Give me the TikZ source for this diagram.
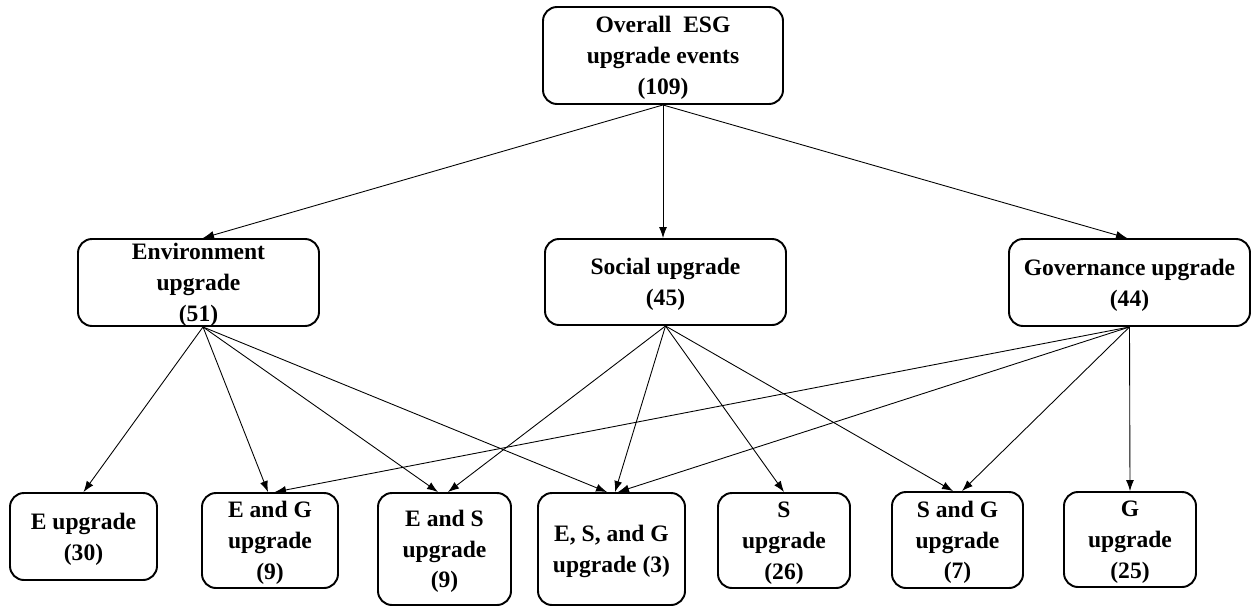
\documentclass[tikz,border=0pt]{standalone}
\usepackage{fontspec}
\setmainfont{Liberation Serif}
\usetikzlibrary{arrows.meta}
\begin{document}
\begin{tikzpicture}[
	box/.style={draw, line width=1.1pt, rounded corners=0.28cm, align=center, inner sep=0pt,
		font=\fontsize{13.4}{17.5}\selectfont\bfseries, text depth=-2.5pt},
	link/.style={-{Latex[length=2.2mm,width=1.6mm]}, line width=0.5pt}]
	\useasboundingbox (0,0) rectangle (25.02,-12.12);
	%top level
	\node[box, minimum width=4.8cm, minimum height=1.94cm] (top) at (13.26,-1.11) {Overall\ \ ESG\\upgrade events\\(109)};
	%second level
	\node[box, minimum width=4.82cm, minimum height=1.74cm] (env) at (3.97,-5.65) {Environment\\upgrade\\(51)};
	\node[box, minimum width=4.82cm, minimum height=1.72cm] (soc) at (13.31,-5.64) {Social upgrade\\(45)};
	\node[box, minimum width=4.82cm, minimum height=1.74cm] (gov) at (22.59,-5.65) {Governance upgrade\\(44)};
	%bottom level
	\node[box, minimum width=2.94cm, minimum height=1.74cm] (e) at (1.67,-10.73) {E upgrade\\(30)};
	\node[box, minimum width=2.72cm, minimum height=1.9cm] (eg) at (5.4,-10.81) {E and G\\upgrade\\(9)};
	\node[box, minimum width=2.66cm, minimum height=2.24cm] (es) at (8.89,-10.98) {E and S\\upgrade\\(9)};
	\node[box, minimum width=2.94cm, minimum height=2.24cm] (esg) at (12.23,-10.98) {E, S, and G\\upgrade (3)};
	\node[box, minimum width=2.64cm, minimum height=1.9cm] (s) at (15.68,-10.81) {S\\upgrade\\(26)};
	\node[box, minimum width=2.62cm, minimum height=1.92cm] (sg) at (19.15,-10.8) {S and G\\upgrade\\(7)};
	\node[box, minimum width=2.64cm, minimum height=1.9cm] (g) at (22.6,-10.79) {G\\upgrade\\(25)};
	%arrows
	\draw[link] (top.south) -- ([xshift=0.09cm]env.north);
	\draw[link] (top.south) -- ([xshift=-0.05cm]soc.north);
	\draw[link] (top.south) -- ([xshift=-0.05cm]gov.north);
	\draw[link] ([xshift=0.09cm]env.south) -- (e.north);
	\draw[link] ([xshift=0.09cm]env.south) -- ([xshift=-0.04cm]eg.north);
	\draw[link] ([xshift=0.09cm]env.south) -- ([xshift=-0.13cm]es.north);
	\draw[link] ([xshift=0.09cm]env.south) -- ([xshift=-0.09cm]esg.north);
	\draw[link] (soc.south) -- ([xshift=0.07cm]es.north);
	\draw[link] (soc.south) -- ([xshift=0.07cm]esg.north);
	\draw[link] (soc.south) -- (s.north);
	\draw[link] (soc.south) -- ([xshift=-0.09cm]sg.north);
	\draw[link] (gov.south) -- ([xshift=0.1cm]eg.north);
	\draw[link] (gov.south) -- ([xshift=0.13cm]esg.north);
	\draw[link] (gov.south) -- ([xshift=0.09cm]sg.north);
	\draw[link] (gov.south) -- (g.north);
\end{tikzpicture}
\end{document}
